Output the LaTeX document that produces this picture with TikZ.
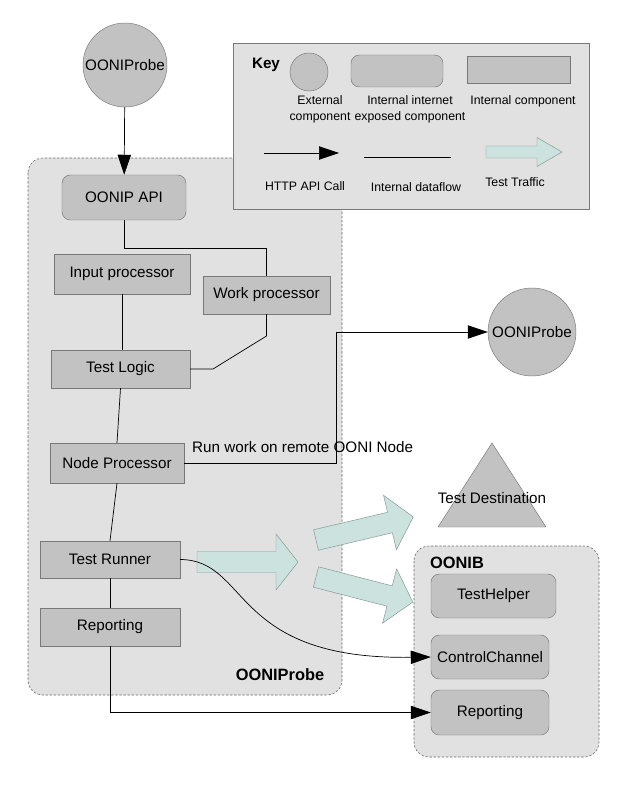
\documentclass[tikz,border=0pt]{standalone}
\usepackage{fontspec}
\setmainfont{Liberation Sans}
\usetikzlibrary{arrows.meta}
\definecolor{nodegray}{RGB}{194,194,194}
\definecolor{groupgray}{RGB}{225,225,225}
\definecolor{bordergray}{RGB}{120,120,120}
\definecolor{dashgray}{RGB}{105,105,105}
\definecolor{trafficteal}{RGB}{204,226,223}
\definecolor{trafficborder}{RGB}{130,150,148}
\tikzstyle{box} = [rectangle, draw=bordergray, fill=nodegray, text centered, inner sep=0pt, font=\fontsize{13}{15}\selectfont]
\tikzstyle{exposed} = [box, rounded corners=0.25cm]
\tikzstyle{external} = [circle, draw=bordergray, fill=nodegray, inner sep=0pt, font=\fontsize{13}{15}\selectfont]
\tikzstyle{group} = [draw=dashgray, fill=groupgray, line width=0.5pt, dash pattern=on 2pt off 1.5pt, rounded corners=0.45cm]
\tikzstyle{keytext} = [align=center, font=\fontsize{10.5}{13.5}\selectfont]
\tikzstyle{title} = [font=\fontsize{14}{16}\selectfont\bfseries]
\tikzstyle{line} = [draw, line width=0.6pt, -{Triangle[length=0.6cm,width=0.4cm]}]
\tikzstyle{flow} = [draw, line width=0.6pt]
\tikzstyle{traffic} = [draw=trafficborder, fill=trafficteal]

\begin{document}
\begin{tikzpicture}[x=0.03cm, y=-0.03cm]
		\useasboundingbox (0,0) rectangle (643,792);

		% ooniprobe
		\node [external, minimum size=2.52cm] (probe) at (125,65) {OONIProbe};
		\draw [group] (28,158) rectangle (342,695);
		\node [title] at (280,675) {OONIProbe};
		\node [exposed, minimum width=3.72cm, minimum height=1.35cm] (api) at (124,197.5) {OONIP API};
		\node [box, minimum width=4.08cm, minimum height=1.2cm] (input) at (122,274) {Input processor};
		\node [box, minimum width=3.81cm, minimum height=1.14cm] (work) at (266.5,295) {Work processor};
		\node [box, minimum width=4.17cm, minimum height=1.14cm] (logic) at (120.5,369) {Test Logic};
		\node [box, minimum width=4.02cm, minimum height=1.2cm] (nodeproc) at (117,463) {Node Processor};
		\node [box, minimum width=4.2cm, minimum height=1.11cm] (runner) at (110,559.5) {Test Runner};
		\node [box, minimum width=4.2cm, minimum height=1.14cm] (report) at (110,627) {Reporting};

		% key
		\draw [draw=bordergray, fill=groupgray] (233,43) rectangle (589,209);
		\node [title, font=\fontsize{13}{15}\selectfont\bfseries] (keytitle) at (266,65) {Key};
		\node [external, minimum size=1.14cm] (keyext) at (309,72) {};
		\node [exposed, minimum width=2.76cm, minimum height=0.96cm] (keyexp) at (397,71) {};
		\node [box, minimum width=3.09cm, minimum height=0.81cm] (keyint) at (518.5,69.5) {};
		\node [keytext] at (320,109) {External\\component};
		\node [keytext] at (410,109) {Internal internet\\exposed component};
		\node [keytext] at (523,101) {Internal component};
		\coordinate (httpa) at (264,153);
		\coordinate (httpb) at (339,153);
		\path [line] (httpa) -- (httpb);
		\node [keytext] at (305,186) {HTTP API Call};
		\coordinate (flowa) at (364,157);
		\coordinate (flowb) at (451,157);
		\path [flow] (flowa) -- (flowb);
		\node [keytext] at (416,187) {Internal dataflow};
		\draw [traffic, shift={(486,152)}] (0,-6) -- (51,-6) -- (51,-14.5) -- (76,0) -- (51,14.5) -- (51,6) -- (0,6) -- cycle;
		\node [keytext] at (515,182) {Test Traffic};

		% remote side
		\node [external, minimum size=2.64cm] (remote) at (532,332) {OONIProbe};
		\draw [draw=bordergray, fill=nodegray] (492,443) -- (546,527) -- (438,527) -- cycle;
		\node [font=\fontsize{13}{15}\selectfont] (dest) at (492,498) {Test Destination};
		\draw [group] (414,546) rectangle (599,757);
		\node [title] at (457,563) {OONIB};
		\node [exposed, minimum width=3.75cm, minimum height=1.32cm] (helper) at (493.5,596) {TestHelper};
		\node [exposed, minimum width=3.54cm, minimum height=1.32cm] (control) at (490,657) {ControlChannel};
		\node [exposed, minimum width=3.54cm, minimum height=1.35cm] (breport) at (490,712.5) {Reporting};

		% test traffic
		\draw [traffic, shift={(197,562)}] (0,-10.5) -- (79,-10.5) -- (79,-28) -- (101,0) -- (79,28) -- (79,10.5) -- (0,10.5) -- cycle;
		\draw [traffic, shift={(316,540)}, rotate=13.3] (0,-10.5) -- (76,-10.5) -- (76,-28) -- (100,0) -- (76,28) -- (76,10.5) -- (0,10.5) -- cycle;
		\draw [traffic, shift={(316,577)}, rotate=-14.5] (0,-10.5) -- (76,-10.5) -- (76,-28) -- (100,0) -- (76,28) -- (76,10.5) -- (0,10.5) -- cycle;

		% connections
		\coordinate (split) at (124,248);
		\coordinate (bend) at (266.5,336);
		\coordinate (knee) at (213,369);
		\coordinate (hop) at (336,463);
		\path [line] (probe) -- (api);
		\path [flow] (api) -- (split) -| (work);
		\path [flow] (input) -- (input |- logic.north);
		\path [flow] (work) -- (bend) -- (knee) -- (logic);
		\path [flow] (logic.south) -- (nodeproc.north);
		\path [flow] (nodeproc.south) -- (runner.north);
		\path [flow] (runner.south) -- (report.north);
		\path [line] (nodeproc) -- (hop) |- (remote);
		\node [anchor=west, font=\fontsize{13}{15}\selectfont, inner sep=0pt] at (192,447) {Run work on remote OONI Node};
		\path [line] (runner.east) .. controls (250,560) and (230,660) .. (control.west);
		\path [line] (report.south) |- (breport.west);
	\end{tikzpicture}
\end{document}
